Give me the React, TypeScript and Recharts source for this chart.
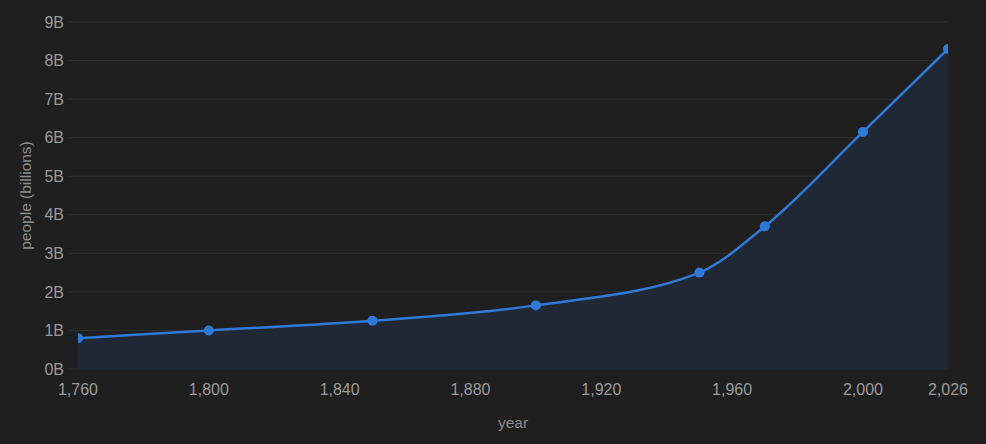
import { AreaChart, Area, XAxis, YAxis, CartesianGrid, Label } from "recharts";

const years = [1760, 1800, 1850, 1900, 1950, 1970, 2000, 2026];
const people = [0.8, 1.0, 1.25, 1.65, 2.5, 3.7, 6.15, 8.3];
const xTicks = [1760, 1800, 1840, 1880, 1920, 1960, 2000, 2026];
const yTicks = [0, 1, 2, 3, 4, 5, 6, 7, 8, 9];

const data = years.map((year, i) => ({ year, people: people[i] }));

const tickStyle = { fill: "#9a9a9a", fontSize: 16, fontFamily: "'Liberation Sans', Arial, sans-serif" };

export default function App() {
  return (
    <div style={{ position: "fixed", left: 0, top: 0, width: 986, height: 444, background: "#1f1f1f" }}>
      <AreaChart width={986} height={444} data={data} margin={{ top: 22, right: 38, bottom: 0, left: 0 }}>
        <CartesianGrid vertical={false} stroke="#2f2f2f" />
        <XAxis
          dataKey="year"
          type="number"
          domain={[1760, 2026]}
          ticks={xTicks}
          allowDataOverflow
          tickFormatter={(v: number) => v.toLocaleString("en-US")}
          tick={tickStyle}
          axisLine={false}
          tickLine={false}
          tickSize={8}
          tickMargin={7}
          height={75}
        >
          <Label value="year" position="insideBottom" offset={16} style={{ ...tickStyle, fontSize: 15.5, fill: "#8c8c8c" }} />
        </XAxis>
        <YAxis
          domain={[0, 9]}
          ticks={yTicks}
          tickFormatter={(v: number) => `${v}B`}
          tick={tickStyle}
          axisLine={false}
          tickLine={{ stroke: "#2f2f2f" }}
          tickSize={10}
          tickMargin={4}
          width={78}
        >
          <Label
            value="people (billions)"
            angle={-90}
            position="insideLeft"
            offset={25}
            style={{ ...tickStyle, fontSize: 15.5, fill: "#8c8c8c", textAnchor: "middle" }}
          />
        </YAxis>
        <Area
          type="monotone"
          dataKey="people"
          stroke="#2f7ad8"
          strokeWidth={2.5}
          fill="#212835"
          fillOpacity={1}
          dot={{ r: 5, fill: "#2f7ad8", stroke: "none" }}
          activeDot={false}
          isAnimationActive={false}
        />
      </AreaChart>
    </div>
  );
}
